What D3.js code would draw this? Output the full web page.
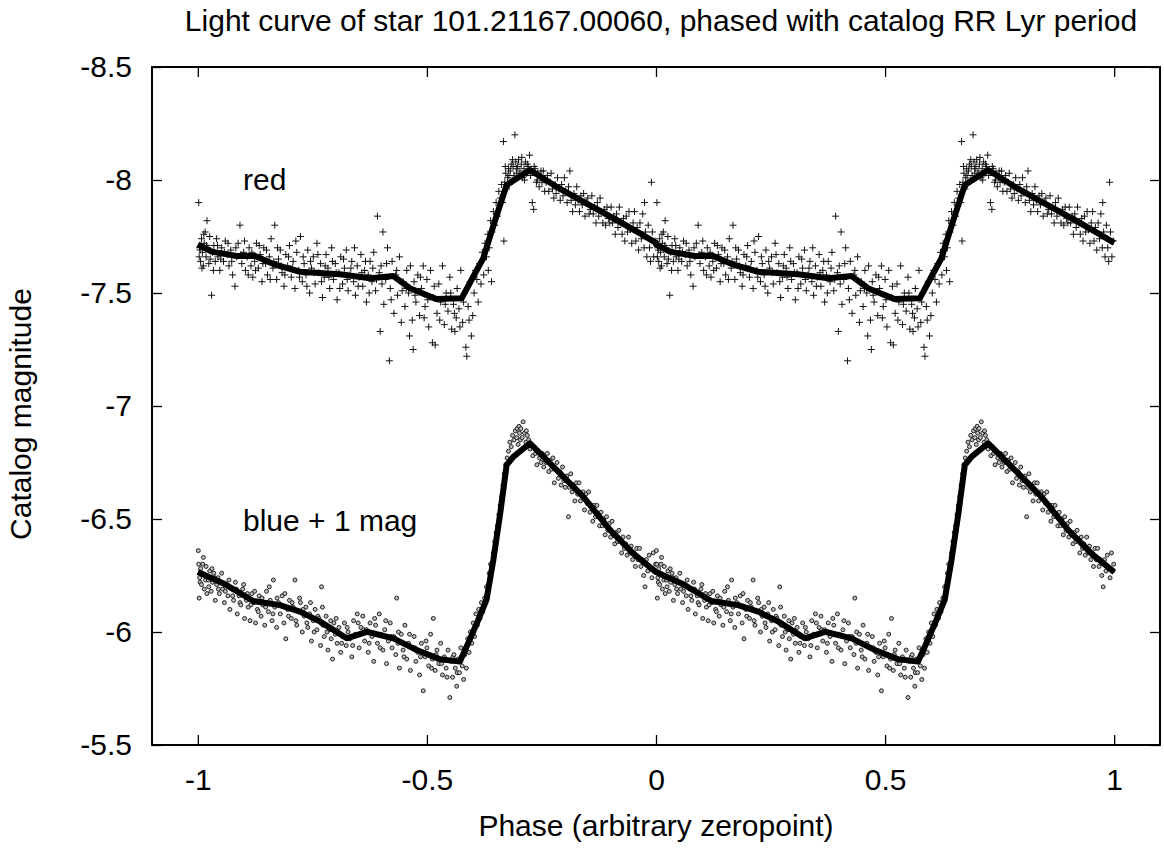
<!DOCTYPE html>
<html>
<head>
<meta charset="utf-8">
<script src="https://cdn.jsdelivr.net/npm/d3@7"></script>
<style>
body { margin: 0; background: #fff; }
svg text { font-family: "Liberation Sans", Arial, Helvetica, sans-serif; fill: #000; }
</style>
</head>
<body>
<svg id="chart" width="1164" height="848"></svg>
<script>
// phase ticks / magnitude ticks
var xTicks = [-1, -0.5, 0, 0.5, 1];
var yTicks = [-8.5, -8, -7.5, -7, -6.5, -6, -5.5];
// the light curve is drawn twice: phase 0..1 shifted by these cycles
var cycles = [-1, 0];

// smoothed (binned) curves, one cycle, [phase, mag]
var redFit = [[0,-7.715],[0.03,-7.683],[0.085,-7.664],[0.125,-7.664],[0.165,-7.628],[0.223,-7.594],[0.31,-7.583],[0.376,-7.565],[0.427,-7.575],[0.463,-7.521],[0.521,-7.473],[0.576,-7.477],[0.601,-7.572],[0.623,-7.654],[0.649,-7.823],[0.674,-7.978],[0.725,-8.044],[0.783,-7.970],[0.841,-7.904],[0.914,-7.823],[0.965,-7.764],[1,-7.722]];
var blueFit = [[0,-6.265],[0.056,-6.215],[0.121,-6.137],[0.179,-6.119],[0.223,-6.09],[0.267,-6.046],[0.325,-5.972],[0.369,-6.001],[0.427,-5.972],[0.478,-5.92],[0.529,-5.879],[0.572,-5.869],[0.59,-5.95],[0.612,-6.053],[0.63,-6.142],[0.645,-6.319],[0.66,-6.525],[0.674,-6.739],[0.689,-6.776],[0.725,-6.835],[0.783,-6.717],[0.841,-6.599],[0.9,-6.451],[0.95,-6.348],[1,-6.265]];

// red measurements, one cycle, [phase, mag]
var redPts = [
[0.002,-7.90],[0.003,-7.66],[0.004,-7.70],[0.005,-7.69],[0.006,-7.64],[0.008,-7.74],[0.009,-7.61],[0.010,-7.68],[0.012,-7.62],[0.013,-7.76],[0.014,-7.72],[0.016,-7.77],[0.018,-7.66],[0.019,-7.71],[0.020,-7.82],[0.022,-7.70],[0.024,-7.63],[0.026,-7.75],[0.027,-7.65],[0.030,-7.49],[0.032,-7.68],[0.034,-7.60],[0.035,-7.71],[0.038,-7.64],[0.041,-7.74],[0.043,-7.71],[0.044,-7.66],[0.048,-7.60],[0.050,-7.65],[0.052,-7.70],[0.056,-7.64],[0.058,-7.68],[0.060,-7.73],[0.064,-7.67],[0.066,-7.72],[0.068,-7.62],[0.072,-7.69],[0.074,-7.64],[0.076,-7.58],[0.081,-7.53],[0.083,-7.70],[0.085,-7.66],[0.088,-7.72],[0.092,-7.80],[0.094,-7.67],[0.096,-7.63],[0.100,-7.68],[0.102,-7.73],[0.104,-7.60],[0.108,-7.66],[0.110,-7.58],[0.112,-7.70],[0.116,-7.62],[0.118,-7.68],
[0.120,-7.57],[0.124,-7.64],[0.126,-7.60],[0.128,-7.72],[0.132,-7.61],[0.134,-7.71],[0.136,-7.67],[0.140,-7.55],[0.142,-7.63],[0.144,-7.70],[0.148,-7.63],[0.150,-7.69],[0.152,-7.58],[0.156,-7.66],[0.158,-7.56],[0.160,-7.74],[0.164,-7.61],[0.166,-7.64],[0.168,-7.80],[0.172,-7.56],[0.174,-7.70],[0.176,-7.65],[0.180,-7.69],[0.182,-7.62],[0.184,-7.59],[0.188,-7.53],[0.190,-7.58],[0.192,-7.67],[0.196,-7.62],[0.198,-7.66],[0.200,-7.71],[0.204,-7.57],[0.206,-7.61],[0.208,-7.64],[0.212,-7.52],[0.214,-7.73],[0.216,-7.68],[0.220,-7.60],[0.222,-7.57],[0.224,-7.75],[0.228,-7.55],[0.230,-7.66],[0.232,-7.63],[0.236,-7.58],[0.238,-7.53],[0.240,-7.69],[0.244,-7.50],[0.246,-7.64],[0.248,-7.61],[0.252,-7.66],[0.254,-7.59],[0.256,-7.54],[0.260,-7.72],[0.262,-7.67],[0.264,-7.59],[0.268,-7.63],[0.270,-7.55],[0.272,-7.48],[0.276,-7.57],[0.278,-7.62],[0.280,-7.67],[0.284,-7.61],[0.286,-7.57],[0.288,-7.52],[0.292,-7.70],[0.294,-7.64],[0.296,-7.56],[0.300,-7.63],[0.302,-7.59],[0.304,-7.47],[0.308,-7.59],[0.310,-7.52],[0.312,-7.66],[0.316,-7.54],[0.318,-7.65],[0.320,-7.61],[0.324,-7.69],[0.326,-7.56],[0.328,-7.51],[0.332,-7.58],[0.334,-7.61],[0.336,-7.64],[0.340,-7.55],[0.342,-7.70],[0.344,-7.49],[0.348,-7.62],[0.350,-7.53],[0.352,-7.57],[0.356,-7.67],[0.358,-7.59],[0.360,-7.53],[0.364,-7.60],[0.366,-7.64],[0.368,-7.46],[0.372,-7.58],[0.374,-7.50],[0.376,-7.64],[0.380,-7.55],[0.382,-7.61],[0.384,-7.68],[0.388,-7.51],[0.390,-7.56],[0.392,-7.84],[0.396,-7.59],[0.398,-7.33],[0.400,-7.62],[0.402,-7.54],[0.404,-7.77],[0.406,-7.45],[0.410,-7.56],[0.412,-7.63],[0.414,-7.70],[0.418,-7.20],[0.420,-7.52],[0.422,-7.47],[0.424,-7.64],[0.428,-7.41],[0.432,-7.58],[0.434,-7.60],[0.436,-7.49],[0.440,-7.66],[0.444,-7.37],[0.446,-7.51],[0.448,-7.55],
[0.452,-7.44],[0.455,-7.52],[0.456,-7.60],[0.460,-7.50],[0.462,-7.31],[0.464,-7.62],[0.468,-7.38],[0.470,-7.25],[0.472,-7.55],[0.474,-7.49],[0.476,-7.46],[0.480,-7.58],[0.484,-7.40],[0.486,-7.57],[0.488,-7.52],[0.492,-7.62],[0.494,-7.39],[0.496,-7.44],[0.500,-7.56],[0.502,-7.47],[0.504,-7.35],[0.508,-7.60],[0.512,-7.28],[0.514,-7.48],[0.516,-7.53],[0.518,-7.27],[0.522,-7.41],[0.526,-7.54],[0.528,-7.38],[0.530,-7.46],[0.534,-7.62],[0.538,-7.36],[0.540,-7.45],[0.542,-7.50],[0.546,-7.42],[0.550,-7.57],[0.552,-7.50],[0.554,-7.34],[0.558,-7.45],[0.560,-7.41],[0.561,-7.33],[0.564,-7.39],[0.566,-7.52],[0.570,-7.43],[0.572,-7.35],[0.574,-7.60],[0.578,-7.37],[0.580,-7.46],[0.582,-7.50],[0.585,-7.26],[0.587,-7.22],[0.590,-7.44],[0.592,-7.38],[0.594,-7.55],[0.597,-7.31],[0.600,-7.40],
[0.603,-7.50],[0.606,-7.60],[0.609,-7.56],[0.612,-7.46],[0.615,-7.63],[0.618,-7.54],[0.621,-7.68],[0.624,-7.58],[0.627,-7.72],[0.630,-7.66],[0.633,-7.76],[0.634,-7.60],[0.636,-7.70],[0.639,-7.82],[0.641,-7.55],[0.642,-7.77],[0.645,-7.86],[0.648,-7.80],[0.651,-7.90],[0.654,-7.84],[0.657,-7.95],[0.660,-7.92],[0.663,-7.98],[0.665,-7.90],[0.667,-8.17],[0.668,-7.73],
[0.670,-7.99],[0.671,-8.06],[0.672,-8.03],[0.674,-7.96],[0.676,-8.01],[0.678,-8.05],[0.679,-8.02],[0.680,-7.98],[0.682,-8.04],[0.684,-8.07],[0.686,-8.00],[0.687,-8.09],[0.688,-8.06],[0.690,-8.02],[0.692,-8.20],[0.694,-8.08],[0.695,-8.05],[0.696,-8.03],[0.698,-8.06],[0.700,-8.09],[0.701,-8.02],[0.703,-8.04],[0.706,-8.07],[0.707,-8.10],[0.709,-8.01],[0.712,-8.05],[0.713,-8.00],[0.715,-8.08],[0.718,-8.03],[0.719,-8.07],[0.721,-8.06],[0.724,-8.11],[0.726,-8.02],[0.727,-8.04],[0.730,-7.90],[0.733,-7.87],[0.734,-8.06],[0.736,-8.05],[0.739,-7.99],[0.741,-8.00],[0.742,-8.03],[0.745,-7.97],[0.748,-8.01],[0.749,-8.04],[0.751,-7.99],[0.754,-8.04],[0.756,-8.00],[0.757,-7.95],
[0.760,-7.99],[0.763,-8.02],[0.766,-7.95],[0.769,-7.99],[0.771,-8.03],[0.774,-7.96],[0.777,-7.92],[0.780,-7.98],[0.782,-7.94],[0.785,-8.01],[0.788,-7.96],[0.791,-7.91],[0.794,-7.98],[0.797,-7.93],[0.800,-8.01],[0.803,-7.95],[0.806,-7.90],[0.809,-7.97],[0.812,-8.04],[0.815,-7.91],[0.818,-7.86],[0.821,-7.94],[0.824,-7.89],[0.827,-7.97],[0.830,-7.91],[0.833,-7.86],[0.836,-7.93],[0.839,-7.89],[0.842,-7.94],[0.845,-7.84],[0.848,-7.90],[0.851,-7.92],[0.854,-7.85],[0.857,-7.87],[0.860,-7.93],[0.863,-7.85],[0.866,-7.88],[0.869,-7.81],[0.872,-7.90],[0.875,-7.84],[0.878,-7.92],[0.881,-7.86],[0.884,-7.81],[0.887,-7.87],[0.890,-7.80],[0.893,-7.88],[0.896,-7.83],[0.899,-7.81],[0.902,-7.88],[0.905,-7.81],[0.908,-7.84],[0.911,-7.76],[0.914,-7.85],[0.917,-7.79],[0.920,-7.88],[0.923,-7.81],[0.926,-7.76],[0.929,-7.83],[0.932,-7.73],[0.935,-7.84],[0.938,-7.77],[0.941,-7.86],[0.944,-7.78],[0.947,-7.72],[0.950,-7.81],[0.953,-7.86],[0.956,-7.73],[0.959,-7.79],[0.962,-7.69],[0.965,-7.81],[0.968,-7.74],[0.971,-7.85],[0.974,-7.70],[0.975,-7.90],[0.977,-7.77],[0.980,-7.66],[0.983,-7.80],[0.986,-7.70],[0.988,-7.64],[0.990,-7.99],[0.992,-7.77],[0.995,-7.66],[0.998,-7.73]
];

// blue measurements (+1 mag), one cycle, [phase, mag]
var bluePts = [
[0.001,-6.36],[0.002,-6.30],[0.003,-6.15],[0.004,-6.24],[0.005,-6.22],[0.006,-6.28],[0.008,-6.21],[0.010,-6.26],[0.011,-6.30],[0.012,-6.33],[0.014,-6.19],[0.016,-6.25],[0.017,-6.23],[0.018,-6.29],[0.020,-6.17],[0.023,-6.23],[0.024,-6.20],[0.026,-6.27],[0.029,-6.18],[0.031,-6.28],[0.032,-6.22],[0.035,-6.26],[0.037,-6.24],[0.038,-6.14],[0.041,-6.21],[0.044,-6.24],[0.045,-6.19],[0.047,-6.17],[0.050,-6.22],[0.052,-6.26],[0.054,-6.19],[0.058,-6.13],[0.060,-6.18],[0.062,-6.21],[0.066,-6.16],[0.068,-6.23],[0.070,-6.10],[0.074,-6.19],[0.076,-6.16],[0.078,-6.14],[0.082,-6.22],[0.084,-6.19],[0.086,-6.08],[0.090,-6.16],[0.092,-6.13],[0.094,-6.12],[0.098,-6.19],[0.100,-6.21],[0.102,-6.06],[0.106,-6.14],[0.108,-6.17],[0.110,-6.11],[0.114,-6.05],[0.116,-6.12],[0.118,-6.17],
[0.122,-6.13],[0.124,-6.18],[0.126,-6.04],[0.130,-6.10],[0.132,-6.09],[0.134,-6.16],[0.138,-6.07],[0.140,-6.15],[0.142,-6.12],[0.146,-6.03],[0.148,-6.11],[0.150,-6.18],[0.154,-6.09],[0.156,-6.20],[0.158,-6.14],[0.162,-6.05],[0.164,-6.08],[0.165,-6.23],[0.168,-6.11],[0.172,-6.02],[0.173,-6.15],[0.176,-6.13],[0.180,-6.08],[0.181,-6.12],[0.184,-6.16],[0.188,-6.04],[0.190,-6.17],[0.192,-5.97],[0.196,-6.10],[0.198,-6.07],[0.200,-6.14],[0.204,-6.06],[0.206,-6.13],[0.208,-6.11],[0.212,-6.23],[0.214,-6.05],[0.216,-6.03],[0.220,-6.09],[0.222,-6.15],[0.224,-6.13],[0.228,-6.00],[0.230,-6.10],[0.232,-6.07],[0.236,-6.11],[0.238,-6.04],[0.240,-6.02],[0.244,-6.08],[0.246,-6.13],[0.248,-5.96],[0.252,-6.05],[0.254,-6.00],[0.256,-6.10],[0.260,-6.01],[0.262,-6.07],[0.264,-6.06],[0.268,-5.94],[0.270,-6.20],[0.272,-6.11],[0.273,-6.03],[0.276,-5.98],[0.280,-6.07],[0.282,-6.00],[0.284,-5.92],[0.288,-6.01],[0.290,-6.05],[0.291,-5.97],[0.294,-5.88],[0.297,-6.04],
[0.300,-5.99],[0.302,-6.06],[0.304,-5.95],[0.308,-6.02],[0.312,-5.91],[0.314,-5.95],[0.316,-5.98],[0.320,-6.04],[0.324,-5.94],[0.326,-6.02],[0.328,-6.00],[0.332,-5.97],[0.336,-5.89],[0.338,-5.94],[0.340,-6.05],[0.344,-5.99],[0.348,-6.08],[0.350,-6.04],[0.352,-5.93],[0.356,-6.02],[0.360,-6.07],[0.362,-6.01],[0.364,-5.96],[0.368,-6.01],[0.372,-5.91],[0.374,-5.95],[0.376,-6.04],[0.380,-5.98],[0.384,-5.87],[0.386,-6.06],[0.388,-6.03],[0.392,-5.95],[0.396,-6.08],[0.398,-5.93],[0.400,-5.99],[0.404,-5.92],[0.408,-6.01],[0.410,-6.05],[0.412,-5.86],[0.416,-5.96],[0.420,-6.04],[0.422,-5.98],[0.424,-5.93],[0.428,-5.98],[0.432,-5.90],[0.434,-6.15],[0.437,-5.95],[0.438,-6.00],[0.440,-5.84],[0.444,-5.99],[0.448,-5.92],[0.450,-5.89],[0.452,-6.03],[0.456,-5.88],[0.460,-5.95],[0.462,-5.99],[0.464,-5.83],[0.468,-5.93],[0.472,-5.98],[0.474,-5.93],[0.476,-5.87],[0.480,-5.91],[0.484,-5.81],[0.486,-5.89],[0.488,-5.95],[0.492,-5.74],[0.496,-5.89],[0.498,-5.96],[0.500,-5.93],[0.504,-5.85],[0.508,-5.99],[0.510,-5.84],[0.512,-5.88],[0.514,-6.06],[0.518,-5.83],[0.520,-5.90],[0.522,-5.92],[0.526,-5.86],[0.530,-5.95],[0.532,-5.86],[0.534,-5.81],[0.538,-5.89],[0.542,-5.84],[0.544,-5.80],[0.546,-5.92],[0.550,-5.71],[0.553,-5.87],[0.556,-5.80],[0.557,-5.89],[0.559,-5.90],[0.562,-5.84],[0.565,-5.76],[0.566,-5.82],[0.568,-5.88],[0.571,-5.82],[0.574,-5.93],[0.576,-5.89],[0.577,-5.85],
[0.580,-5.79],[0.583,-5.90],[0.586,-5.84],[0.589,-5.97],[0.592,-5.91],[0.595,-6.00],[0.598,-5.95],[0.601,-6.04],[0.604,-5.98],[0.607,-6.08],[0.610,-6.03],[0.613,-6.10],[0.616,-6.06],[0.619,-6.13],[0.622,-6.09],[0.626,-6.15],[0.630,-6.20],[0.633,-6.18],[0.636,-6.26],[0.639,-6.30],[0.642,-6.28],[0.645,-6.35],[0.648,-6.40],[0.651,-6.44],[0.654,-6.47],[0.657,-6.52],[0.660,-6.56],[0.663,-6.60],[0.666,-6.65],[0.669,-6.70],[0.672,-6.74],[0.675,-6.77],
[0.678,-6.80],[0.681,-6.84],[0.684,-6.82],[0.687,-6.87],[0.690,-6.85],[0.693,-6.89],[0.696,-6.86],[0.697,-6.90],[0.699,-6.83],[0.701,-6.91],[0.702,-6.88],[0.704,-6.85],[0.705,-6.90],[0.708,-6.86],[0.710,-6.93],[0.713,-6.88],[0.716,-6.84],[0.717,-6.89],[0.719,-6.87],[0.720,-6.82],[0.722,-6.85],[0.725,-6.81],[0.728,-6.83],[0.731,-6.78],[0.734,-6.82],[0.737,-6.79],[0.740,-6.74],[0.743,-6.80],[0.746,-6.77],[0.749,-6.75],[0.752,-6.79],[0.755,-6.73],[0.758,-6.76],
[0.760,-6.75],[0.763,-6.79],[0.766,-6.71],[0.769,-6.76],[0.772,-6.72],[0.775,-6.77],[0.778,-6.66],[0.781,-6.72],[0.784,-6.75],[0.787,-6.68],[0.790,-6.71],[0.793,-6.65],[0.796,-6.73],[0.799,-6.67],[0.802,-6.64],[0.805,-6.69],[0.809,-6.51],[0.811,-6.64],[0.814,-6.70],[0.817,-6.62],[0.820,-6.65],[0.823,-6.58],[0.826,-6.66],[0.829,-6.61],[0.832,-6.66],[0.835,-6.58],[0.838,-6.61],[0.841,-6.62],[0.844,-6.54],[0.847,-6.61],[0.850,-6.57],[0.853,-6.62],[0.856,-6.53],[0.859,-6.56],[0.862,-6.49],[0.865,-6.56],[0.868,-6.51],[0.871,-6.56],[0.874,-6.52],[0.877,-6.47],[0.880,-6.53],[0.883,-6.47],[0.886,-6.50],[0.889,-6.43],[0.892,-6.51],[0.895,-6.45],[0.898,-6.48],[0.901,-6.42],[0.904,-6.49],[0.907,-6.43],[0.910,-6.39],[0.913,-6.44],[0.916,-6.40],[0.919,-6.45],[0.922,-6.41],[0.925,-6.35],[0.928,-6.42],[0.931,-6.37],[0.934,-6.39],[0.937,-6.34],[0.940,-6.42],[0.943,-6.35],[0.946,-6.38],[0.949,-6.32],[0.952,-6.35],[0.955,-6.29],[0.958,-6.37],[0.961,-6.32],[0.964,-6.37],[0.967,-6.29],[0.970,-6.32],[0.973,-6.25],[0.976,-6.20],[0.979,-6.32],[0.982,-6.27],[0.985,-6.34],[0.988,-6.28],[0.991,-6.24],[0.994,-6.35],[0.997,-6.27],[0.999,-6.30]
];

var W = 1164, H = 848;
var m = {left: 152, right: 1160, top: 67, bottom: 745};
var fs = 30;

var svg = d3.select('#chart');
svg.append('rect').attr('width', W).attr('height', H).attr('fill', '#fff');

var x = d3.scaleLinear().domain([-1.1, 1.1]).range([m.left, m.right]);
var y = d3.scaleLinear().domain([-5.5, -8.5]).range([m.bottom, m.top]);
var fmt = function(d){ return String(d); };

function unfold(arr){
  return cycles.flatMap(function(k){
    return arr.map(function(d){ return [d[0] + k, d[1]]; });
  });
}

// axes, ticks pointing inward, mirrored on top/right
function styleAxis(g, noText){
  g.select('.domain').remove();
  g.selectAll('.tick line').attr('stroke', '#000').attr('stroke-width', 1.3);
  if (noText) g.selectAll('.tick text').remove();
  else g.selectAll('.tick text').attr('font-size', fs).attr('fill', '#000');
}
svg.append('g').attr('transform', 'translate(0,' + m.bottom + ')')
  .call(d3.axisBottom(x).tickValues(xTicks).tickFormat(fmt).tickSize(-10).tickPadding(24))
  .call(function(g){ styleAxis(g); });
svg.append('g').attr('transform', 'translate(0,' + m.top + ')')
  .call(d3.axisTop(x).tickValues(xTicks).tickSize(-10))
  .call(function(g){ styleAxis(g, true); });
svg.append('g').attr('transform', 'translate(' + m.left + ',0)')
  .call(d3.axisLeft(y).tickValues(yTicks).tickFormat(fmt).tickSize(-10).tickPadding(20))
  .call(function(g){ styleAxis(g); });
svg.append('g').attr('transform', 'translate(' + m.right + ',0)')
  .call(d3.axisRight(y).tickValues(yTicks).tickSize(-10))
  .call(function(g){ styleAxis(g, true); });

var plot = svg.append('g');

// red: plus marks
plot.append('g').selectAll('path').data(unfold(redPts)).join('path')
  .attr('transform', function(d){ return 'translate(' + x(d[0]) + ',' + y(d[1]) + ')'; })
  .attr('d', 'M-3.5,0H3.5M0,-3.5V3.5')
  .attr('stroke', '#111').attr('stroke-width', 1).attr('fill', 'none');

// blue: small open circles
plot.append('g').selectAll('circle').data(unfold(bluePts)).join('circle')
  .attr('cx', function(d){ return x(d[0]); })
  .attr('cy', function(d){ return y(d[1]); })
  .attr('r', 2)
  .attr('fill', '#bbb').attr('stroke', '#111').attr('stroke-width', 0.9);

var line = d3.line().x(function(d){ return x(d[0]); }).y(function(d){ return y(d[1]); });
[redFit, blueFit].forEach(function(f){
  plot.append('path').datum(unfold(f)).attr('d', line)
    .attr('fill', 'none').attr('stroke', '#000').attr('stroke-width', 6)
    .attr('stroke-linejoin', 'round');
});

// frame
svg.append('rect').attr('x', m.left).attr('y', m.top)
  .attr('width', m.right - m.left).attr('height', m.bottom - m.top)
  .attr('fill', 'none').attr('stroke', '#000').attr('stroke-width', 2);

// labels inside plot
svg.append('text').attr('x', 243).attr('y', 190).attr('font-size', fs).text('red');
svg.append('text').attr('x', 243).attr('y', 531).attr('font-size', fs).text('blue + 1 mag');

// titles
svg.append('text').attr('x', 661).attr('y', 31).attr('text-anchor', 'middle').attr('font-size', fs)
  .text('Light curve of star 101.21167.00060, phased with catalog RR Lyr period');
svg.append('text').attr('x', 656).attr('y', 836).attr('text-anchor', 'middle').attr('font-size', fs)
  .text('Phase (arbitrary zeropoint)');
svg.append('text').attr('transform', 'translate(31,414) rotate(-90)').attr('text-anchor', 'middle').attr('font-size', fs)
  .text('Catalog magnitude');
</script>
</body>
</html>
